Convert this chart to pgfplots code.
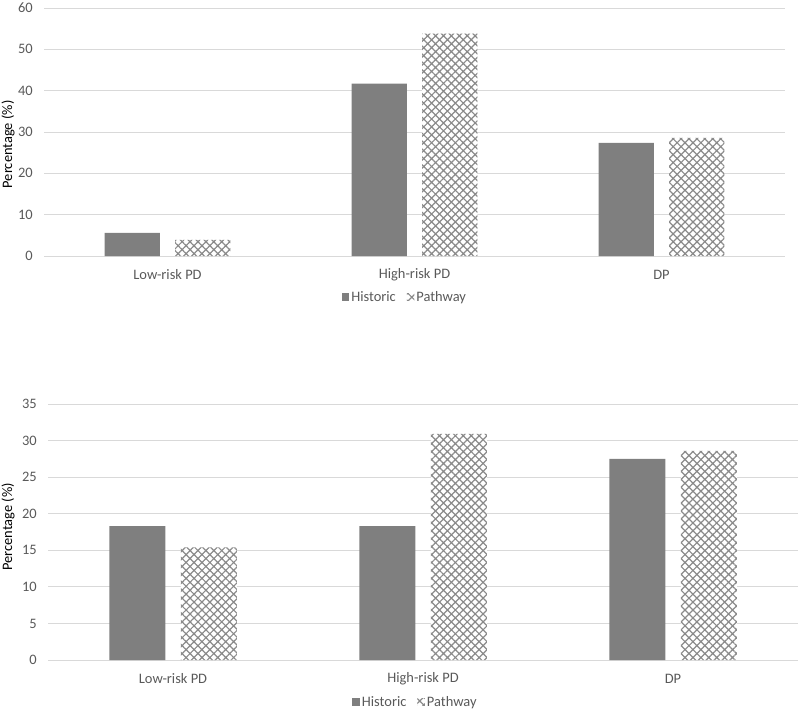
\documentclass[border=0pt]{standalone}
\usepackage{fontspec}
\setmainfont{Carlito}
\usepackage{pgfplots}
\pgfplotsset{compat=1.18}
\usetikzlibrary{patterns.meta}

\definecolor{barhist}{HTML}{7F7F7F}
\definecolor{hatchc}{HTML}{8A8A8A}
\definecolor{gridc}{HTML}{D9D9D9}
\definecolor{ticktext}{HTML}{595959}
\definecolor{labtext}{HTML}{404040}

\pgfplotsset{
  excelbars/.style={
    scale only axis,
    xmin=-0.5, xmax=2.5, ymin=0,
    xtick={0,1,2}, xticklabels={Low-risk PD,High-risk PD,DP},
    axis line style={draw=none}, major tick length=0pt,
    ymajorgrids, grid style={gridc, line width=0.8pt},
    font=\fontsize{14.5}{16}\selectfont,
    /pgf/number format/assume math mode=true,
    tick label style={text=ticktext},
    xticklabel style={anchor=center, yshift=-19bp},
    yticklabel style={inner sep=0pt, xshift=-11bp},
    ylabel={Percentage (\%)},
    ylabel style={text=labtext, font=\fontsize{13.5}{15}\selectfont\bfseries},
    bar width=0.224,
    legend columns=2,
    legend cell align=left,
    legend style={draw=none, fill=none, font=\fontsize{14.5}{16}\selectfont, text=ticktext,
      /tikz/every even column/.append style={column sep=9bp}},
    legend image code/.code={\path[##1,draw=none] (-2bp,-3.8bp) rectangle (5.5bp,3.8bp);},
  },
  histbar/.style={ybar, bar shift=-0.143, fill=barhist, draw=none},
  pathbar/.style={ybar, bar shift=0.143, draw=none, fill=white,
    postaction={pattern={Hatch[angle=45,distance=5.6bp,line width=1.2bp]}, pattern color=hatchc}},
}

\begin{document}
\begin{tikzpicture}
\path[use as bounding box] (0,0) rectangle (800bp,-709bp);

% upper panel
\begin{axis}[excelbars,
  at={(44bp,-256bp)}, anchor=south west,
  width=741bp, height=248bp,
  ymax=60, ytick={0,10,...,60},
  every axis y label/.style={at={(axis description cs:0,0.45)}, rotate=90, anchor=center, yshift=36bp},
  legend style={at={(0.487,0)}, anchor=center, yshift=-41bp}]
\addplot[histbar] coordinates {(0,5.6) (1,41.7) (2,27.4)};
\addplot[pathbar] coordinates {(0,3.9) (1,53.8) (2,28.6)};
\legend{Historic,Pathway}
\end{axis}

% lower panel
\begin{axis}[excelbars,
  at={(48bp,-660bp)}, anchor=south west,
  width=750bp, height=256bp,
  ymax=35, ytick={0,5,...,35},
  every axis y label/.style={at={(axis description cs:0,0.52)}, rotate=90, anchor=center, yshift=40bp},
  legend style={at={(0.49,0)}, anchor=center, yshift=-42bp}]
\addplot[histbar] coordinates {(0,18.3) (1,18.3) (2,27.5)};
\addplot[pathbar] coordinates {(0,15.4) (1,30.9) (2,28.6)};
\legend{Historic,Pathway}
\end{axis}
\end{tikzpicture}
\end{document}
